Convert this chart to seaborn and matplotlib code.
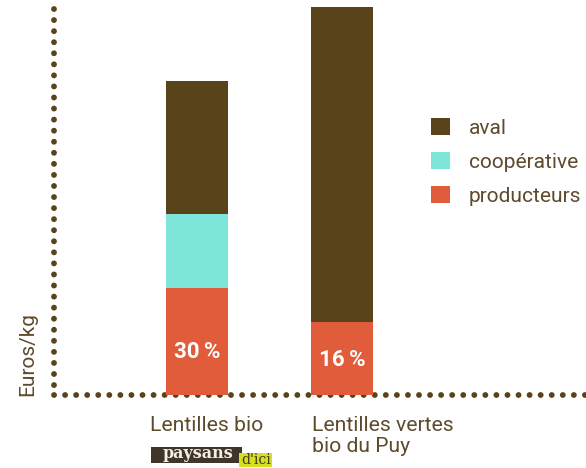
import matplotlib
matplotlib.use("Agg")
import matplotlib.pyplot as plt
import matplotlib.transforms as mtransforms
from matplotlib.patches import Patch, Rectangle
import pandas as pd
import seaborn as sns

# values (arbitrary Euros/kg units)
CATEGORIES = ["Lentilles bio", "Lentilles vertes\nbio du Puy"]
PRODUCTEURS = [10.7, 7.3]
COOPERATIVE = [7.4, 0.0]
AVAL = [13.4, 31.6]
PART_PRODUCTEURS = ["30\u2009%", "16\u2009%"]
SERIES = ["aval", "coopérative", "producteurs"]

BROWN = "#59431b"
CYAN = "#7de6d8"
RED = "#e05c3a"
TEXT = "#5e4a2c"
LIME = "#d6e01f"
LOGO = "#3f3528"

sns.set_theme(style="white")
plt.rcParams["font.family"] = ["Roboto", "DejaVu Sans"]

df = pd.DataFrame({"cat": CATEGORIES, "prod": PRODUCTEURS,
                   "coop": COOPERATIVE, "aval": AVAL})
df["prod_coop"] = df["prod"] + df["coop"]
df["total"] = df["prod_coop"] + df["aval"]

fig = plt.figure(figsize=(5.86, 4.68), dpi=100)
ax = fig.add_axes([54 / 586, 73 / 468, 532 / 586, 388 / 468])

# stacked bars: draw cumulative totals, largest first
for col, color in [("total", BROWN), ("prod_coop", CYAN), ("prod", RED)]:
    sns.barplot(data=df, x="cat", y=col, color=color, saturation=1, width=0.428,
                errorbar=None, linewidth=0, ax=ax, zorder=3)

ax.set_xlim(-0.986, 2.683)
ax.set_ylim(0, df["total"].max())
sns.despine(ax=ax, left=True, bottom=True)
ax.set_xticks([]); ax.set_yticks([])
ax.set_xlabel(""); ax.set_ylabel("")

# dotted axes (vertical one drawn top-down so the dots start at the top)
dots = dict(color=BROWN, lw=4.2, ls=(0, (0.01, 1.886)), dash_capstyle="round",
            zorder=2, clip_on=False)
ax.axhline(0, **dots)
ax.plot([0, 0], [0.995, 0], transform=ax.transAxes, **dots)

ax.text(-0.049, -0.003, "Euros/kg", transform=ax.transAxes, rotation=90,
        ha="center", va="bottom", fontsize=15, color=TEXT)

# producer share inside red segment
for i, (p, lab) in enumerate(zip(PRODUCTEURS, PART_PRODUCTEURS)):
    ax.text(i, p * 0.235 + 1.78, lab, ha="center", va="center", color="white",
            fontsize=16, fontweight="bold", zorder=4,
            family=["Roboto", "DejaVu Sans"])

# category labels below the axis
shifts = [-47, -30]
for i, (cat, dx) in enumerate(zip(CATEGORIES, shifts)):
    off = mtransforms.ScaledTranslation(dx / 100, -21 / 100, fig.dpi_scale_trans)
    ax.text(i, 0, cat, transform=ax.get_xaxis_transform() + off,
            ha="left", va="top", fontsize=15.2, color=TEXT, linespacing=1.15)

# "paysans d'ici" badge
fig.add_artist(Rectangle((151 / 586, 5 / 468), 91 / 586, 16 / 468,
                         transform=fig.transFigure, color=LOGO, lw=0))
fig.add_artist(Rectangle((239 / 586, 1 / 468), 33 / 586, 14 / 468,
                         transform=fig.transFigure, color=LIME, lw=0))
fig.text(198 / 586, 14 / 468, "paysans", ha="center", va="center",
         fontsize=11.5, fontweight="bold", color="#f3efe6", family="DejaVu Serif")
fig.text(256 / 586, 8 / 468, "d'ici", ha="center", va="center",
         fontsize=10, color=LOGO, family="DejaVu Serif")

# legend
handles = [Patch(facecolor=c, lw=0) for c in (BROWN, CYAN, RED)]
fig.legend(handles, SERIES, loc="upper left", bbox_to_anchor=(431 / 586, 1 - 118 / 468),
           frameon=False, fontsize=15, labelcolor=TEXT, handlelength=0.91,
           handleheight=0.91, handletextpad=0.91, labelspacing=0.67,
           borderpad=0, borderaxespad=0)

fig.savefig("out.png", dpi=100)
